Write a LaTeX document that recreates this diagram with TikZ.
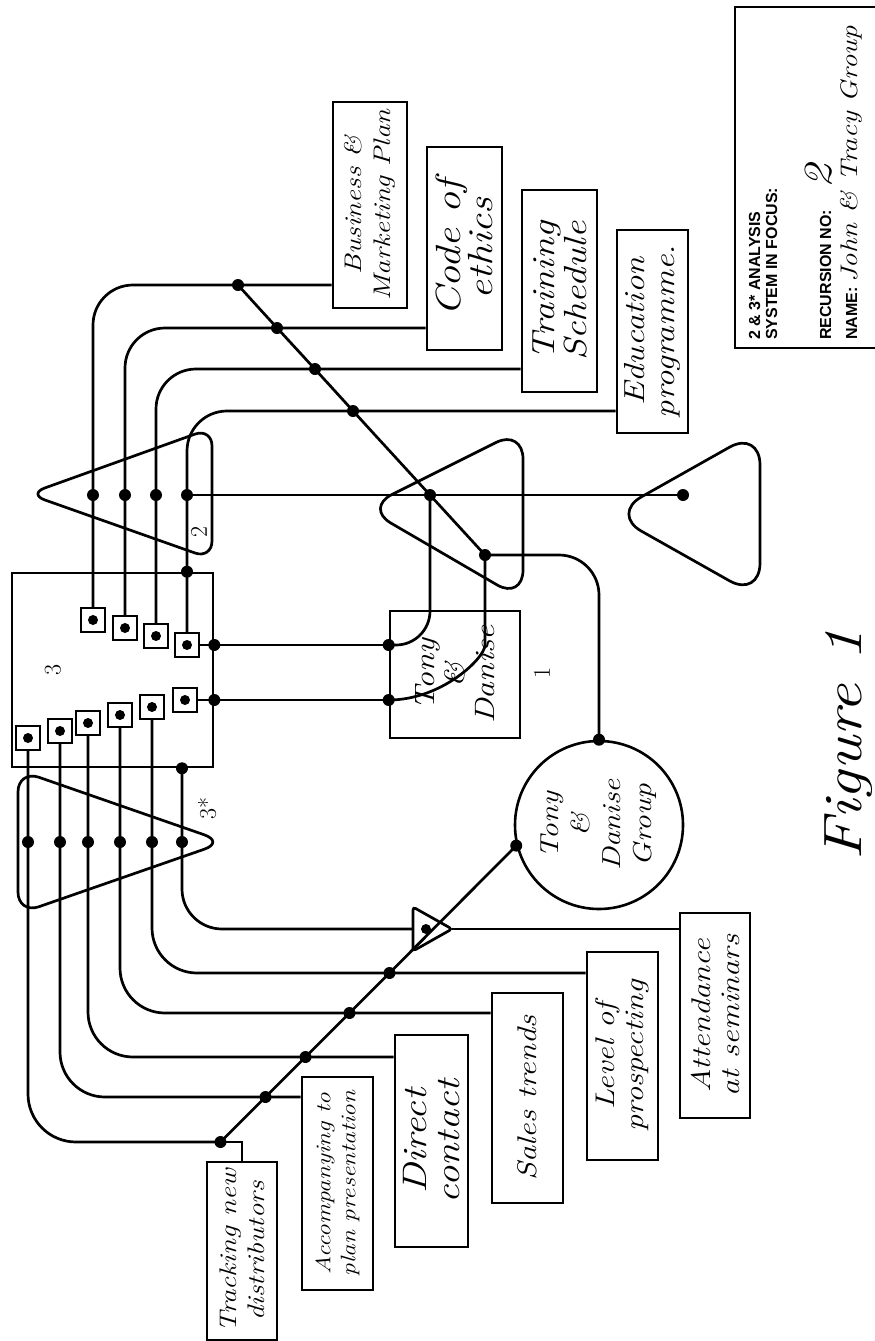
\documentclass[tikz,border=0pt]{standalone}
\usepackage{fontspec}
\setsansfont{Liberation Sans}
\newfontfamily\handfont{Latin Modern Roman}[FakeStretch=1.2]
\newcommand{\hand}[2]{\handfont\itshape\fontsize{#1}{#2}\selectfont}
\usetikzlibrary{calc}
\tikzset{
    wire/.style={line width=2.7pt, rounded corners=40pt},
    jn/.style={circle, fill=black, inner sep=0pt, minimum size=12pt},
    port/.style={draw, line width=2.2pt, fill=white, minimum size=24pt, inner sep=0pt,
        path picture={\fill[black] (path picture bounding box.center) circle (5pt);}},
    tag/.style={draw, line width=2.6pt, rotate=90, align=center, inner sep=2pt},
    num/.style={rotate=90, font=\fontsize{24}{24}\selectfont},
    tri/.style={line width=2.7pt, rounded corners=#1},
    tri/.default=25pt,
    legendtxt/.style={rotate=90, anchor=base west, inner sep=0pt, font=\sffamily\bfseries\fontsize{16}{18}\selectfont},
}
\begin{document}
\begin{tikzpicture}[x=1pt, y=-1pt]
    \useasboundingbox (0,0) rectangle (875,1341);

    % Boxes at the top
    \node[tag, minimum width=206pt, minimum height=74pt, font={\hand{24}{29}}] (bus) at (370,205) {Business \&\\ Marketing Plan};
    \node[tag, minimum width=203pt, minimum height=75pt, font={\hand{35}{32}}] (code) at (464.5,248.5) {Code of\\ ethics};
    \node[tag, minimum width=202pt, minimum height=75pt, font={\hand{32}{32}}] (train) at (559.5,291) {Training\\ Schedule};
    \node[tag, minimum width=203pt, minimum height=71pt, font={\hand{29}{30}}] (edu) at (652.5,331.5) {Education\\ programme.};

    % Legend
    \node[draw, line width=2.4pt, minimum width=150pt, minimum height=341pt] (legend) at (810,177.5) {};
    \node[legendtxt] (lg1) at (760,340) {2 \& 3* ANALYSIS};
    \node[legendtxt] (lg2) at (777,340) {SYSTEM IN FOCUS:};
    \node[legendtxt] (lg3) at (831,340) {RECURSION NO: {\mdseries\hand{40}{40}\ 2}};
    \node[legendtxt] (lg4) at (857,340) {NAME: {\mdseries\hand{24}{24}John \& Tracy Group}};

    % Systems
    \node[draw, line width=2.6pt, minimum width=201pt, minimum height=194pt] (sys) at (112.5,670) {};
    \node[num] (n3) at (53,670) {3};
    \node[tag, minimum width=127pt, minimum height=130pt, font={\hand{28}{30}}] (tony) at (455,674.5) {Tony\\ \&\\ Danise};
    \node[num] (n1) at (542,673) {1};
    \node[draw, circle, line width=2.6pt, minimum size=168pt, rotate=90, align=center, font={\hand{26}{31}}] (grp) at (599,825) {Tony\\ \&\\ Danise\\ Group};

    % Triangles
    \draw[tri=18pt] (212,490) -- (212,559) -- (28,494) -- (212,428) -- cycle;
    \node[num] (n2) at (199,532) {2};
    \draw[tri=30pt] (523,515) -- (523,600) -- (365,508) -- (523,429) -- cycle;
    \draw[tri=35pt] (760,514) -- (760,598) -- (611,514) -- (760,430) -- cycle;
    \draw[tri=22pt] (18,842) -- (18,770) -- (225,842) -- (18,914) -- cycle;
    \node[num] (n3s) at (207,808) {3*};
    \draw[tri=3pt] (413,907) -- (452,929) -- (413,951) -- cycle;
    \coordinate (sw) at (413,929);
    \coordinate (se) at (452,929);
    \node[jn, minimum size=10pt] (jsm) at (426,929) {};

    % Junctions, upper half
    \node[jn] (j11) at (238,285) {};
    \node[jn] (j12) at (277,328) {};
    \node[jn] (j13) at (315,369) {};
    \node[jn] (j14) at (353,411) {};
    \node[jn] (jt1) at (93,495) {};
    \node[jn] (jt2) at (125,495) {};
    \node[jn] (jt3) at (156,495) {};
    \node[jn] (jt4) at (187,495) {};
    \node[jn] (jx) at (430,495) {};
    \node[jn] (jy) at (485,555) {};
    \node[jn] (jr) at (683,495) {};
    \node[jn] (jb) at (sys.north -| jt4) {};
    \node[port] (s1) at (93,620) {};
    \node[port] (s2) at (125,628) {};
    \node[port] (s3) at (156,636) {};
    \node[port] (s4) at (187,645) {};
    \node[jn] (jb1) at (sys.east |- s4) {};
    \node[jn] (jd1) at (tony.north |- jb1) {};

    % Junctions, lower half
    \node[port] (t1) at (28,738) {};
    \node[port] (t2) at (60,731) {};
    \node[port] (t3) at (88,723) {};
    \node[port] (t4) at (120,715) {};
    \node[port] (t5) at (152,707) {};
    \node[port] (t6) at (185,700) {};
    \node[jn] (jb2) at (sys.east |- t6) {};
    \node[jn] (jd2) at (tony.north |- jb2) {};
    \node[jn] (m1) at (28,842) {};
    \node[jn] (m2) at (60,842) {};
    \node[jn] (m3) at (88,842) {};
    \node[jn] (m4) at (120,842) {};
    \node[jn] (m5) at (152,842) {};
    \node[jn] (m6) at (182,842) {};
    \node[jn] (jl1) at (sys.south -| m6) {};
    \node[jn] (gtop) at (grp.east) {};
    \node[jn] (gl) at (grp.104) {};
    \node[jn] (k1) at (389.5,973) {};
    \node[jn] (k2) at (349.5,1013) {};
    \node[jn] (k3) at (305.5,1057) {};
    \node[jn] (k4) at (265.5,1097) {};
    \node[jn] (k5) at (220.5,1142) {};

    % Boxes at the bottom
    \node[tag, minimum width=205pt, minimum height=70pt, font={\hand{27}{29}}] (att) at (715,1015.5) {Attendance\\ at seminars};
    \node[tag, minimum width=208pt, minimum height=71pt, font={\hand{27}{29}}] (lvl) at (622.5,1056) {Level of\\ prospecting};
    \node[tag, minimum width=210pt, minimum height=71pt, font={\hand{27}{29}}] (sales) at (527.5,1098) {Sales trends};
    \node[tag, minimum width=212pt, minimum height=73pt, font={\hand{34}{33}}] (direct) at (431.5,1141) {Direct\\ contact};
    \node[tag, minimum width=213pt, minimum height=71pt, font={\hand{21}{25}}] (acc) at (337.5,1183.5) {Accompanying to\\ plan presentation};
    \node[tag, minimum width=178pt, minimum height=70pt, font={\hand{24}{28}}] (track) at (242,1251) {Tracking new\\ distributors};

    % Wires, upper half
    \draw[wire] (j11 -| bus.north) -- (j11.center) -| (jt1.center) -- (s1);
    \draw[wire] (j12 -| code.north) -- (j12.center) -| (jt2.center) -- (s2);
    \draw[wire] (j13 -| train.north) -- (j13.center) -| (jt3.center) -- (s3);
    \draw[wire] (j14 -| edu.north) -- (j14.center) -| (jt4.center) -- (jb.center) -- (s4);
    \draw[wire] (j11.center) -- (j12.center) -- (j13.center) -- (j14.center) -- (jx.center) -- (jy.center);
    \draw[wire] (jt4.center) -- (jx.center) -- (jr.center);
    \draw[wire, sharp corners] (s4.east) -- (jd1.center);
    \draw[wire, sharp corners] (t6.east) -- (jd2.center);
    \draw[wire, rounded corners=34pt] (jd1.center) -| (jx.center);
    \draw[wire] (jy.center) -- ++(0,50) to[out=-90, in=0] (jd2.center);
    \draw[wire] (jy.center) -| (gtop.center);

    % Wires, lower half
    \draw[wire] (gl.center) -- (k1.center) -- (k2.center) -- (k3.center) -- (k4.center) -- (k5.center);
    \draw[wire] (jl1.center) -- (m6.center) |- (sw);
    \draw[wire] (se) -- (se -| att.north);
    \draw[wire, rounded corners=45pt] (t5.south) -- (m5.center) |- (k1 -| lvl.north);
    \draw[wire, rounded corners=45pt] (t4.south) -- (m4.center) |- (k2 -| sales.north);
    \draw[wire, rounded corners=45pt] (t3.south) -- (m3.center) |- (k3 -| direct.north);
    \draw[wire, rounded corners=45pt] (t2.south) -- (m2.center) |- (k4 -| acc.north);
    \draw[wire, rounded corners=48pt] (t1.south) -- (m1.center) |- (k5.center);
    \draw[wire, sharp corners] (k5.center) -| (track.east);

    % Caption
    \node[rotate=90, anchor=base, font={\hand{54}{54}}] (fig) at (861,745) {Figure 1};
\end{tikzpicture}
\end{document}
